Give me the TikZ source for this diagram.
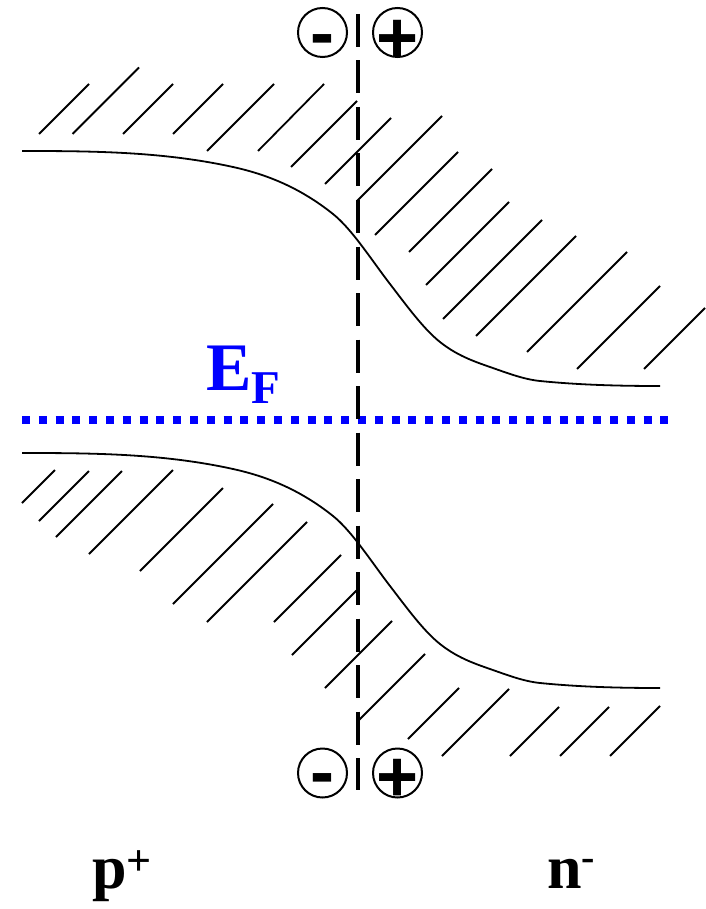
\documentclass[tikz,border=0pt]{standalone}
\usepackage{fontspec}
\setmainfont{Liberation Serif}
\newfontfamily\signfont{Liberation Sans}
\begin{document}
\begin{tikzpicture}[x=1pt,y=-1pt,
  hatch/.style={line width=1.8pt},
  band/.style={line width=1.8pt},
  junction/.style={line width=4pt,dash pattern=on 33pt off 13.5pt},
  fermi/.style={line width=8pt,blue,dash pattern=on 8pt off 8.8pt},
  ring/.style={circle,draw,line width=2pt,minimum size=49pt,inner sep=0pt},
  sign/.style={anchor=base,inner sep=0pt,font=\signfont\bfseries\fontsize{72}{72}\selectfont},
  label/.style={anchor=base west,inner sep=0pt,font=\bfseries\fontsize{62}{62}\selectfont}]
\useasboundingbox (0,0) rectangle (705,909);

% upper hatching
\foreach \xa/\ya/\xb/\yb in {39/134/89/84, 72.5/134/139/67.5, 123/134/173/84, 173/134/223/84,
  207/151/274/84, 258/151/324/84, 291/167/357/101, 325/184/391/118, 357/201/442/116,
  375/235/458/152, 409/252/492/169, 426/285/509/202, 443/319/542/220, 476/336/576/236,
  527/352/627/252, 577/369/660/286, 644/369/705/308}
  \draw[hatch] (\xa,\ya) -- (\xb,\yb);

% lower hatching
\foreach \xa/\ya/\xb/\yb in {22/503/55/470, 39/521/89/471, 56/537/122/471, 89/554/173/470,
  140/571/223/488, 173/604/273/504, 207/622/307/522, 274/622/341/555, 292/655/356.5/590.5,
  325/688/392/621, 357/722/425/654, 408/739/459/688, 442/756/509/689, 510/756/559/707,
  560/756/609/707, 610/756/660/706}
  \draw[hatch] (\xa,\ya) -- (\xb,\yb);

% band edges (conduction band, then valence band shifted down)
\foreach \dy in {0,302}{
\begin{scope}[shift={(0,\dy)}]
\draw[band] (22,151) .. controls (92.3,151) and (162.7,151.5) .. (233,167)
  .. controls (266.3,174.3) and (299.7,187.4) .. (333,214)
  .. controls (352,229.2) and (371,259.3) .. (390,284)
  .. controls (406.7,305.7) and (423.3,328.7) .. (440,342)
  .. controls (456.7,355.3) and (473.3,361.2) .. (490,367)
  .. controls (506.7,372.8) and (523.3,379.3) .. (540,381)
  .. controls (580,385) and (620,386) .. (660,386);
\end{scope}}

% Fermi level
\coordinate (f1) at (22,420);
\coordinate (f2) at (669,420);
\draw[fermi] (f1) -- (f2);

% junction
\coordinate (j1) at (358,14);
\coordinate (j2) at (358,790);
\draw[junction] (j1) -- (j2);

% charges
\node[ring] (c1) at (322.5,32.5) {};
\node[ring] (c2) at (397.5,32.5) {};
\node[ring] (c3) at (322.5,773) {};
\node[ring] (c4) at (397.5,773) {};
\node[sign] (m1) at (322.7,57.4) {-};
\node[sign] (p1) at (397.5,62.4) {+};
\node[sign] (m2) at (322.7,796.5) {-};
\node[sign] (p2) at (397.5,801) {+};

% labels
\node[anchor=base west,inner sep=0pt,text=blue,font=\bfseries\fontsize{68}{68}\selectfont]
  (ef) at (206,390) {E\raisebox{-13pt}{\fontsize{47}{47}\selectfont F}};
\node[label] (pp) at (92,888) {p\raisebox{13pt}{\fontsize{44}{44}\selectfont +}};
\node[label] (nn) at (547,888) {n\raisebox{18pt}{\fontsize{40}{40}\selectfont -}};
\end{tikzpicture}
\end{document}
